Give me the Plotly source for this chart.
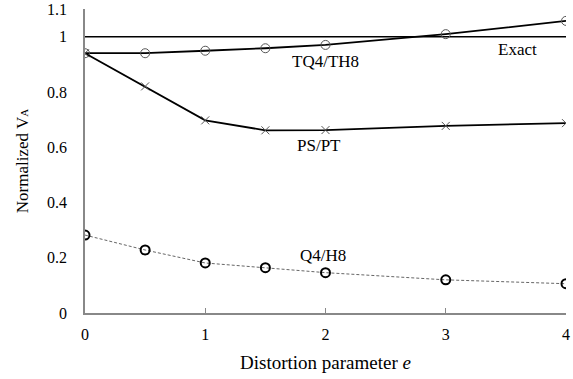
import plotly.graph_objects as go

e = [0, 0.5, 1, 1.5, 2, 3, 4]
tq4_th8 = [0.940, 0.940, 0.949, 0.958, 0.970, 1.009, 1.057]
ps_pt = [0.940, 0.820, 0.697, 0.661, 0.662, 0.677, 0.687]
q4_h8 = [0.282, 0.228, 0.181, 0.164, 0.146, 0.120, 0.106]
exact_x = [0, 4]
exact_y = [1, 1]

xticks = [0, 1, 2, 3, 4]
yticks = [0, 0.2, 0.4, 0.6, 0.8, 1, 1.1]
yticklabels = ["0", "0.2", "0.4", "0.6", "0.8", "1", "1.1"]

FONT = "Times New Roman"

fig = go.Figure()
fig.add_trace(go.Scatter(x=exact_x, y=exact_y, mode="lines",
                         line=dict(color="black", width=1.5), showlegend=False))
fig.add_trace(go.Scatter(x=e, y=tq4_th8, mode="lines+markers",
                         line=dict(color="black", width=1.8),
                         marker=dict(symbol="circle-open", size=9, color="#555555",
                                     line=dict(width=1)), showlegend=False))
fig.add_trace(go.Scatter(x=e, y=ps_pt, mode="lines+markers",
                         line=dict(color="black", width=1.8),
                         marker=dict(symbol="x-thin-open", size=8, color="#555555",
                                     line=dict(width=1, color="#555555")), showlegend=False))
fig.add_trace(go.Scatter(x=e, y=q4_h8, mode="lines+markers",
                         line=dict(color="#666666", width=1, dash="3px,2px"),
                         marker=dict(symbol="circle-open", size=9, color="black",
                                     line=dict(width=2)), showlegend=False))

annots = [
    dict(x=3.6, y=0.955, text="Exact"),
    dict(x=2.0, y=0.910, text="TQ4/TH8"),
    dict(x=1.95, y=0.605, text="PS/PT"),
    dict(x=1.98, y=0.208, text="Q4/H8"),
]
for a in annots:
    fig.add_annotation(x=a["x"], y=a["y"], text=a["text"], showarrow=False,
                       font=dict(family=FONT, size=17, color="black"))

fig.update_layout(
    width=573, height=379,
    margin=dict(l=85, r=7, t=9, b=66),
    paper_bgcolor="white", plot_bgcolor="white",
    font=dict(family=FONT, size=16, color="black"),
    xaxis=dict(range=[0, 4], tickvals=xticks, showgrid=False, zeroline=False,
               showline=True, linecolor="#888888", linewidth=1.5,
               ticks="inside", ticklen=5, tickcolor="#888888",
               tickfont=dict(family=FONT, size=16), automargin=False,
               ticklabelstandoff=6, ticklabeloverflow="allow",
               title=dict(text="Distortion parameter <i>e</i>",
                          font=dict(family=FONT, size=19), standoff=14)),
    yaxis=dict(range=[0, 1.1], tickvals=yticks, ticktext=yticklabels,
               showgrid=False, zeroline=False, automargin=False,
               showline=True, linecolor="#888888", linewidth=1.5,
               ticks="", ticklabelstandoff=13, ticklabeloverflow="allow",
               tickfont=dict(family=FONT, size=16),
               title=dict(text="Normalized V<span style='font-size:11px'>A</span>",
                          font=dict(family=FONT, size=17), standoff=14)),
)

fig.write_html("out.html")
